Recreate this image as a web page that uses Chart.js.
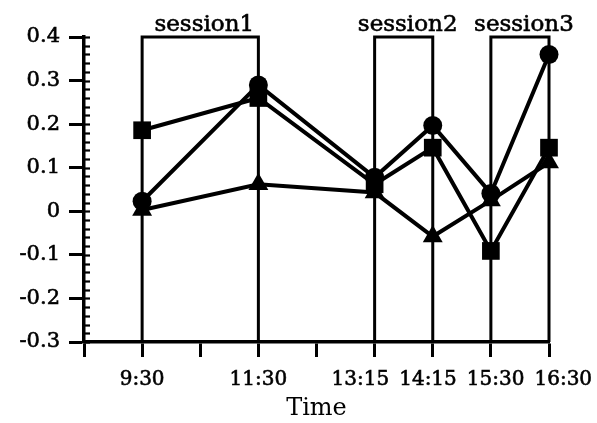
<!DOCTYPE html>
<html><head><meta charset="utf-8">
<script src="https://cdn.jsdelivr.net/npm/chart.js@4"></script>
<style>html,body{margin:0;padding:0;background:#fff}#wrap{width:597px;height:423px;position:relative}</style>
</head><body><div id="wrap"><canvas id="c"></canvas></div>
<script>
// ---- data ----
const categories = ['9:30', '11:30', '13:15', '14:15', '15:30', '16:30'];
const positions = [0, 2, 4, 5, 6, 7];
const circleValues = [0.023, 0.29, 0.078, 0.197, 0.041, 0.36];
const squareValues = [0.186, 0.26, 0.062, 0.146, -0.091, 0.146];
const triangleValues = [0.003, 0.062, 0.043, -0.058, 0.025, 0.112];
const sessionNames = ['session1', 'session2', 'session3'];
const sessionStart = [0, 4, 6];
const sessionEnd = [2, 5, 7];
const sessionTop = 0.4;
const yMin = -0.3, yMax = 0.4, xMin = -1, xMax = 7;

const FONT = 'DejaVu Serif';
Chart.defaults.font.family = FONT;
Chart.defaults.color = '#000';

function pts(vals) { return vals.map((v, i) => ({ x: positions[i], y: v })); }

const seriesStyle = (pointStyle, r) => ({
  type: 'line', showLine: true, borderColor: '#000', backgroundColor: '#000',
  borderWidth: 4, pointStyle: pointStyle, pointRadius: r, pointHoverRadius: r,
  pointBorderWidth: 0, pointBackgroundColor: '#000', clip: false, order: 0
});

const datasets = [];
sessionNames.forEach((n, i) => {
  datasets.push({
    type: 'line', label: n, showLine: true,
    data: [{ x: sessionStart[i], y: yMin }, { x: sessionStart[i], y: sessionTop },
           { x: sessionEnd[i], y: sessionTop }, { x: sessionEnd[i], y: yMin }],
    borderColor: '#000', borderWidth: 3, pointRadius: 0, clip: false, order: 5,
    tension: 0
  });
});
datasets.push(Object.assign({ label: 'circle', data: pts(circleValues) }, seriesStyle('circle', 9.5)));
datasets.push(Object.assign({ label: 'square', data: pts(squareValues) }, seriesStyle('rect', 12.5)));
datasets.push(Object.assign({ label: 'triangle', data: pts(triangleValues) }, seriesStyle('triangle', 11.5)));

const extras = {
  id: 'extras',
  afterDraw(chart) {
    const ctx = chart.ctx, xs = chart.scales.x, ys = chart.scales.y;
    ctx.save();
    // minor ticks on inner side of y axis
    ctx.strokeStyle = '#000'; ctx.lineWidth = 2.2;
    const left = chart.chartArea.left;
    for (let k = 0; k <= 35; k++) {
      const v = yMin + k * 0.02;
      const py = Math.round(ys.getPixelForValue(v)) + 0.5;
      ctx.beginPath(); ctx.moveTo(left, py); ctx.lineTo(left + 6, py); ctx.stroke();
    }
    ctx.fillStyle = '#000'; ctx.strokeStyle = '#000'; ctx.lineWidth = 0.6;
    // session labels
    ctx.font = '23px "' + FONT + '"';
    ctx.textAlign = 'center'; ctx.textBaseline = 'alphabetic';
    sessionNames.forEach((n, i) => {
      const cx = (xs.getPixelForValue(sessionStart[i]) + xs.getPixelForValue(sessionEnd[i])) / 2 + 4;
      const cy = ys.getPixelForValue(sessionTop) - 6;
      ctx.fillText(n, cx, cy); ctx.strokeText(n, cx, cy);
    });
    // x category labels, spread apart where they would overlap
    ctx.font = '20px "' + FONT + '"';
    ctx.textBaseline = 'middle';
    const gap = 10;
    const items = categories.map((c, i) => ({ text: c, x: xs.getPixelForValue(positions[i]), w: ctx.measureText(c).width }));
    let groups = items.map(it => [it]);
    let changed = true;
    const place = g => {
      const mean = g.reduce((s, it) => s + it.x, 0) / g.length;
      const total = g.reduce((s, it) => s + it.w, 0) + gap * (g.length - 1);
      let cur = mean - total / 2;
      return g.map(it => { const c = cur + it.w / 2; cur += it.w + gap; return c; });
    };
    while (changed) {
      changed = false;
      for (let i = 0; i < groups.length - 1; i++) {
        const a = place(groups[i]), b = place(groups[i + 1]);
        const aLast = groups[i][groups[i].length - 1], bFirst = groups[i + 1][0];
        if (a[a.length - 1] + aLast.w / 2 + gap > b[0] - bFirst.w / 2) {
          groups.splice(i, 2, groups[i].concat(groups[i + 1])); changed = true; break;
        }
      }
    }
    const ly = chart.chartArea.bottom + 38;
    groups.forEach(g => {
      const cs = place(g);
      g.forEach((it, j) => { ctx.fillText(it.text, cs[j], ly); ctx.strokeText(it.text, cs[j], ly); });
    });
    ctx.restore();
  }
};

new Chart(document.getElementById('c'), {
  type: 'scatter',
  data: { datasets },
  options: {
    responsive: true, maintainAspectRatio: false, animation: false,
    layout: { padding: { left: 0, right: 48, top: 37, bottom: 0 } },
    plugins: { legend: { display: false }, tooltip: { enabled: false } },
    scales: {
      x: {
        type: 'linear', min: xMin, max: xMax,
        afterFit(s) { s.height = 81; },
        border: { display: true, color: '#000', width: 3.5 },
        grid: { display: true, drawOnChartArea: false, drawTicks: true, tickLength: 15, tickColor: '#000', tickWidth: 3 },
        ticks: {
          stepSize: 1, autoSkip: false, maxRotation: 0, padding: 11,
          font: { size: 20, family: FONT }, color: 'rgba(0,0,0,0)',
          callback(v) { const i = positions.indexOf(Math.round(v)); return i >= 0 ? categories[i] : ''; }
        },
        title: { display: true, text: 'Time', font: { size: 24, family: FONT }, color: '#000', padding: { top: 0, bottom: 0 } }
      },
      y: {
        type: 'linear', min: yMin, max: yMax,
        afterFit(s) { s.width = 84; },
        border: { display: true, color: '#000', width: 3.5 },
        grid: { display: true, drawOnChartArea: false, drawTicks: true, tickLength: 15, tickColor: '#000', tickWidth: 3 },
        ticks: {
          stepSize: 0.1, padding: 9, font: { size: 21, family: FONT }, color: '#000',
          textStrokeColor: '#000', textStrokeWidth: 0.6,
          callback(v) { const r = Math.round(v * 10) / 10; return r === 0 ? '0' : String(r); }
        }
      }
    }
  },
  plugins: [extras]
});
</script>
</body></html>
